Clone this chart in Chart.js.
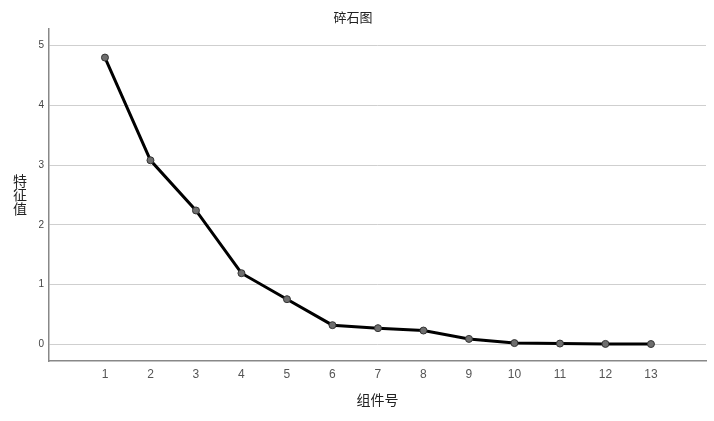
<!DOCTYPE html>
<html><head><meta charset="utf-8">
<script src="https://cdn.jsdelivr.net/npm/chart.js@4"></script>
<style>html,body{margin:0;padding:0;background:#fff}#wrap{width:714px;height:421px}</style>
</head><body><div id="wrap"><canvas id="c" width="714" height="421"></canvas></div>
<script>
const components = [1,2,3,4,5,6,7,8,9,10,11,12,13];
const eigenvalues = [4.80,3.08,2.24,1.19,0.755,0.32,0.27,0.23,0.09,0.02,0.012,0.006,0.004];
const yTicks = [0,1,2,3,4,5];
const chartTitle = '碎石图';
const xTitle = '组件号';
const yTitleChars = ['特','征','值'];

const CJK = '"Noto Sans CJK SC", "Noto Sans", sans-serif';

const yTitlePlugin = {
  id: 'yTitleStack',
  afterDraw(chart) {
    const ctx = chart.ctx;
    const area = chart.chartArea;
    ctx.save();
    ctx.fillStyle = '#222';
    ctx.font = '14px ' + CJK;
    ctx.textAlign = 'center';
    ctx.textBaseline = 'middle';
    const cy = (area.top + area.bottom) / 2;
    const lh = 14;
    yTitleChars.forEach((ch, i) => {
      ctx.fillText(ch, 20, cy + (i - (yTitleChars.length - 1) / 2) * lh);
    });
    ctx.restore();
  }
};

new Chart(document.getElementById('c'), {
  type: 'line',
  data: {
    datasets: [{
      data: components.map((c, i) => ({x: c, y: eigenvalues[i]})),
      borderColor: '#000',
      borderWidth: 3,
      pointRadius: 3.5,
      pointBackgroundColor: '#6e6e6e',
      pointBorderColor: '#333',
      pointBorderWidth: 1,
      tension: 0
    }]
  },
  plugins: [yTitlePlugin],
  options: {
    responsive: false,
    animation: false,
    layout: {padding: {left: 0, right: 8, top: 0, bottom: 13}},
    plugins: {
      legend: {display: false},
      tooltip: {enabled: false},
      title: {display: true, text: chartTitle, color: '#222',
        font: {family: CJK, size: 13, weight: 'normal'}, padding: {top: 9, bottom: 4}}
    },
    scales: {
      x: {
        type: 'linear', min: -0.23, max: 14.21,
        afterBuildTicks(scale) { scale.ticks = components.map(v => ({value: v})); },
        grid: {display: false, drawTicks: false},
        border: {display: true, color: '#888', width: 1.5},
        ticks: {color: '#555', font: {family: 'Arial, "Liberation Sans", sans-serif', size: 12}, padding: 6,
          callback: v => String(v)},
        title: {display: true, text: xTitle, color: '#222', font: {family: CJK, size: 14}, padding: {top: 10, bottom: 0}},
        afterFit(scale) { scale.height = 47; }
      },
      y: {
        min: -0.28, max: 5.285,
        afterBuildTicks(scale) { scale.ticks = yTicks.map(v => ({value: v})); },
        grid: {color: '#cfcfcf', lineWidth: 1, drawTicks: false},
        border: {display: true, color: '#888', width: 1.5},
        ticks: {color: '#444', font: {family: 'Arial, "Liberation Sans", sans-serif', size: 10}, padding: 5},
        afterFit(scale) { scale.width = 49; }
      }
    }
  }
});
</script>
</body></html>
